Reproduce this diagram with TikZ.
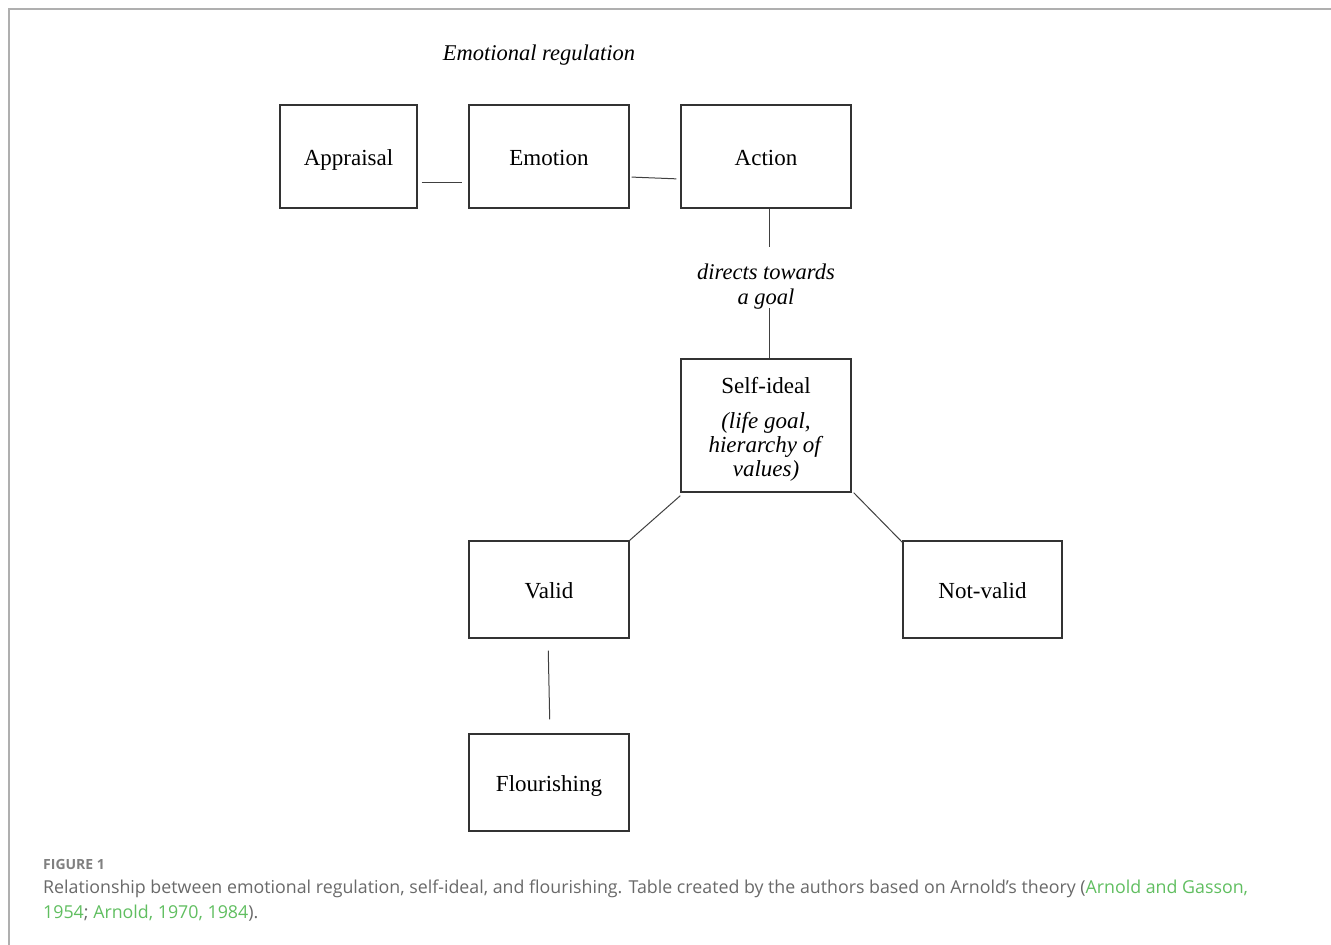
\documentclass[tikz,border=0pt]{standalone}
\usepackage{fontspec}
\setmainfont{Liberation Serif}
\newfontfamily\capfont{Open Sans}
\usepackage{xcolor}
\usepackage{tikz}
\definecolor{capgray}{RGB}{105,105,105}
\definecolor{refgreen}{RGB}{96,190,96}
\definecolor{framegray}{RGB}{175,175,175}
\tikzset{
  box/.style={draw=black!80, line width=1.3pt, minimum width=160pt, minimum height=97pt,
    inner sep=0pt, align=center, text height=18pt, text depth=0pt, font=\fontsize{23}{24}\selectfont},
  link/.style={draw=black!75, line width=1pt},
  lbl/.style={inner sep=0pt, align=center, font=\fontsize{22.5}{25}\selectfont\itshape},
  captext/.style={anchor=west, inner sep=0pt, text=capgray, font=\capfont\fontsize{17.8}{24}\selectfont}
}

\begin{document}
\begin{tikzpicture}[x=1pt,y=-1pt]
\useasboundingbox (0,0) rectangle (1331,945);
\draw[framegray, line width=1.5pt] (9,945) -- (9,9) -- (1331,9);

\node[lbl] (regtitle) at (539,55) {Emotional regulation};

% top row
\node[box, minimum width=137pt, minimum height=103pt] (appraisal) at (348.5,156.5) {Appraisal};
\node[box, minimum height=103pt] (emotion) at (549,156.5) {Emotion};
\node[box, minimum width=170pt, minimum height=103pt] (action) at (766,156.5) {Action};

\node[lbl] (goal) at (766,286.5) {directs towards\\a goal};
\coordinate (g1) at (769,247);
\coordinate (g2) at (769,308);

\node[box, text height=, text depth=, minimum width=170pt, minimum height=133pt] (selfideal) at (766,425.5)
  {\rule{0pt}{23pt}Self-ideal\\[11pt]\textit{(life goal,}\\\textit{hierarchy of}\\\textit{values)}};

\node[box] (valid) at (549,589.5) {Valid};
\node[box, minimum width=159pt] (notvalid) at (982.5,589.5) {Not-valid};
\node[box] (flour) at (549,782.5) {Flourishing};

% connectors
\draw[link, shorten <=4pt, shorten >=6pt] ([yshift=-25.5pt]appraisal.east) -- ([yshift=-25.5pt]emotion.west);
\draw[link, shorten <=2pt, shorten >=4pt] ([yshift=-20.5pt]emotion.east) -- ([yshift=-22.5pt]action.west);
\draw[link] ([xshift=3pt]action.south) -- (g1);
\draw[link] (g2) -- ([xshift=3pt]selfideal.north);
\draw[link] ([yshift=-3pt]selfideal.south west) -- (valid.north east);
\draw[link] ([xshift=2pt]selfideal.south east) -- ([yshift=-2pt]notvalid.north west);
\draw[link, shorten <=12pt, shorten >=14pt] ([xshift=-1pt]valid.south) -- ([xshift=1pt]flour.north);

% caption
\node[captext, font=\capfont\bfseries\fontsize{14}{16}\selectfont, text=capgray!85] (fig) at (43,864) {FIGURE 1};
\node[captext] (capa) at (43,889) {Relationship between emotional regulation, self-ideal, and flourishing. Table created by the authors based on Arnold’s theory (\textcolor{refgreen}{Arnold and Gasson,}};
\node[captext] (capb) at (43,913) {\textcolor{refgreen}{1954}; \textcolor{refgreen}{Arnold, 1970, 1984}).};
\end{tikzpicture}
\end{document}
